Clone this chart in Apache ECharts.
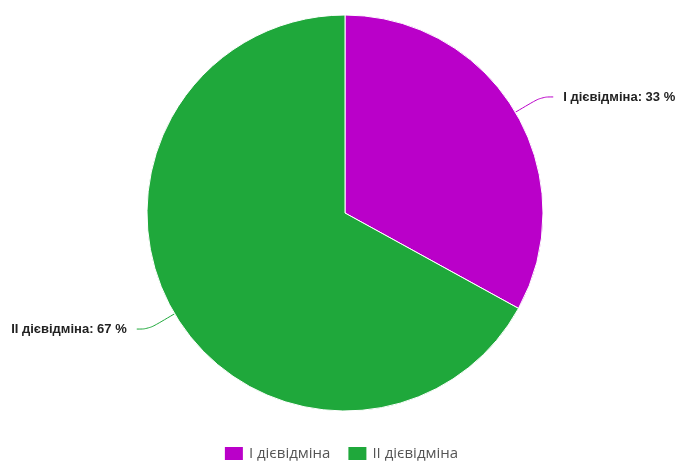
<!DOCTYPE html>
<html>
<head>
<meta charset="utf-8">
<script src="https://cdn.jsdelivr.net/npm/echarts@6/dist/echarts.min.js"></script>
<style>
  html, body { margin: 0; padding: 0; background: #fff; }
  #chart { width: 681px; height: 461px; }
</style>
</head>
<body>
<div id="chart"></div>
<script>
const categories = ['I дієвідміна', 'II дієвідміна'];
const values = [33, 67];
const colors = ['#BA00C9', '#1FA83B'];

const chart = echarts.init(document.getElementById('chart'));

chart.setOption({
  animation: false,
  color: colors,
  legend: {
    bottom: -6,
    left: 'center',
    itemWidth: 20,
    itemHeight: 15,
    itemGap: 16,
    icon: 'rect',
    textStyle: { fontFamily: 'Open Sans', fontSize: 15, color: '#555' },
    data: categories
  },
  series: [{
    type: 'pie',
    center: [345, 213],
    radius: 198,
    startAngle: 90,
    clockwise: true,
    itemStyle: { borderColor: '#fff', borderWidth: 1 },
    label: {
      formatter: '{b}: {c} %',
      fontFamily: 'Liberation Sans',
      fontWeight: 'bold',
      fontSize: 13,
      color: '#222',
      overflow: 'none',
      distanceToLabelLine: 10
    },
    labelLine: {
      length: 30,
      length2: 12,
      smooth: 0.4,
      lineStyle: { width: 1 }
    },
    data: categories.map((c, i) => ({ name: c, value: values[i] }))
  }]
});
</script>
</body>
</html>
